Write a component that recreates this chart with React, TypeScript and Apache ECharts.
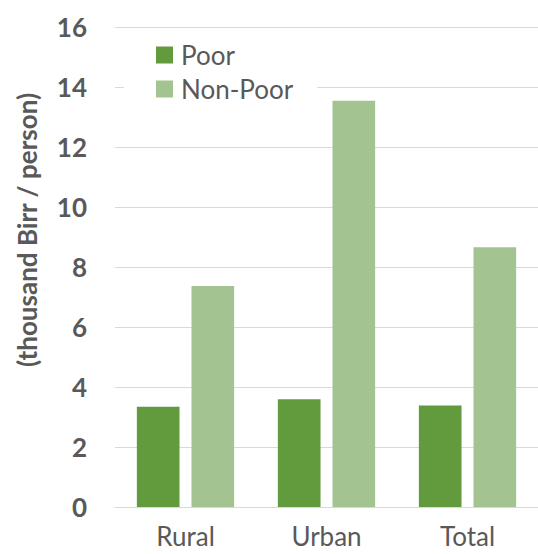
import React, { useEffect, useRef } from "react";
import * as echarts from "echarts";

const categories = ["Rural", "Urban", "Total"];
const poorValues = [3.34, 3.59, 3.38];
const nonPoorValues = [7.37, 13.54, 8.66];
const seriesNames = ["Poor", "Non-Poor"];
const yAxisTitle = "(thousand Birr / person)";

const FONT = "Lato, 'Noto Sans', sans-serif";
const TEXT_COLOR = "#595959";
const GRID_COLOR = "#D9D9D9";

export default function App() {
  const ref = useRef<HTMLDivElement>(null);

  useEffect(() => {
    if (!ref.current) return;
    const chart = echarts.init(ref.current, undefined, { renderer: "svg" });
    chart.setOption({
      animation: false,
      backgroundColor: "#ffffff",
      textStyle: { fontFamily: FONT },
      grid: { left: 115, right: 0, top: 27, bottom: 47, containLabel: false },
      legend: {
        orient: "vertical",
        left: 124,
        top: 30,
        padding: [12, 24, 12, 32],
        backgroundColor: "#ffffff",
        itemWidth: 17,
        itemHeight: 17,
        itemGap: 8,
        icon: "rect",
        data: seriesNames,
        textStyle: {
          fontFamily: FONT,
          fontSize: 26,
          color: TEXT_COLOR,
          padding: [0, 0, 0, 3],
        },
      },
      xAxis: {
        type: "category",
        data: categories,
        axisLine: { show: true, lineStyle: { color: GRID_COLOR, width: 1 } },
        axisTick: { show: false },
        axisLabel: {
          fontFamily: FONT,
          fontSize: 26,
          lineHeight: 24,
          color: TEXT_COLOR,
          margin: 17,
        },
      },
      yAxis: {
        type: "value",
        min: 0,
        max: 16,
        interval: 2,
        axisLine: { show: false },
        axisTick: { show: false },
        splitLine: { lineStyle: { color: GRID_COLOR, width: 1 } },
        axisLabel: {
          fontFamily: FONT,
          fontSize: 26,
          fontWeight: "bold",
          color: TEXT_COLOR,
          margin: 28,
        },
      },
      graphic: [
        {
          type: "text",
          x: 27,
          y: 230,
          rotation: Math.PI / 2,
          style: {
            text: yAxisTitle,
            font: `bold 26px ${FONT}`,
            fill: TEXT_COLOR,
            textAlign: "center",
            textVerticalAlign: "middle",
          },
        },
      ],
      series: [
        {
          name: seriesNames[0],
          type: "bar",
          data: poorValues,
          barGap: "28%",
          barCategoryGap: "31%",
          itemStyle: { color: "#629A3E" },
        },
        {
          name: seriesNames[1],
          type: "bar",
          data: nonPoorValues,
          barGap: "28%",
          barCategoryGap: "31%",
          itemStyle: { color: "#A3C491" },
        },
      ],
    });
    return () => chart.dispose();
  }, []);

  return <div ref={ref} style={{ width: 538, height: 554, position: "absolute", left: 0, top: 0 }} />;
}
